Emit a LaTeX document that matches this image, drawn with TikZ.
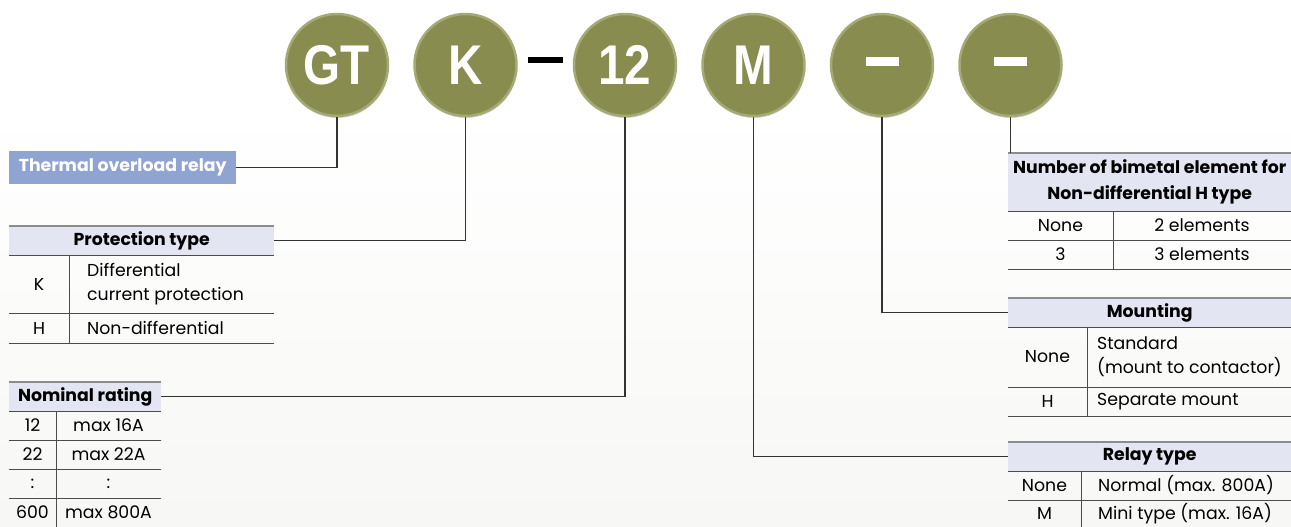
\documentclass[tikz,border=0pt]{standalone}
\usepackage{fontspec}
\setmainfont{Poppins}
\newfontfamily\badgefont{Liberation Sans}[FakeStretch=0.85]
\usetikzlibrary{arrows,positioning,shadows}
\definecolor{badgegreen}{HTML}{888D4F}
\definecolor{badgerim}{HTML}{A5AA75}
\definecolor{headfill}{HTML}{E3E5F3}
\definecolor{labelfill}{HTML}{8FA4D1}
\definecolor{paper}{HTML}{F7F8F5}
\tikzset{
    %Define style for the code circles
    badge/.style={
           circle,
           fill=badgegreen,
           draw=badgerim, line width=2.5pt,
           minimum size=102pt,
           inner sep=0pt,
           text=white,
           font=\badgefont\bfseries\fontsize{56}{56}\selectfont,
           drop shadow={opacity=0.3, shadow xshift=0.5pt, shadow yshift=-2pt}},
    %Define style for table heads
    headcell/.style={
           rectangle,
           fill=headfill,
           inner sep=0pt,
           anchor=north west,
           align=center,
           font=\bfseries\fontsize{17.3}{26}\selectfont},
    %Define style for table cells
    cell/.style={
           inner sep=0pt,
           font=\fontsize{17.3}{24}\selectfont},
    celltext/.style={
           cell,
           anchor=west,
           align=left},
    %Define style for lines
    toprule/.style={draw=black!45, line width=1.6pt},
    rowrule/.style={draw=black!70, line width=0.8pt},
    link/.style={draw=black!80, line width=1.2pt}
}
\begin{document}
\begin{tikzpicture}[x=1pt,y=-1pt,node distance=24pt]
\useasboundingbox (0,0) rectangle (1291,527);
\fill[white] (0,0) rectangle (1291,100);
\shade[top color=white, bottom color=paper] (0,100) rectangle (1291,527);

 %code circles
\node[badge] (gt) at (337,65) {GT};
\node[badge, right=of gt] (k) {K};
\node[badge, right=55pt of k] (n12) {12};
\node[badge, right=of n12] (m) {M};
\node[badge, right=of m] (mount) {\raisebox{7pt}{\rule{33pt}{9pt}}};
\node[badge, right=of mount] (elem) {\raisebox{7pt}{\rule{33pt}{9pt}}};
\path (k.east) -- (n12.west) node[midway, yshift=5pt, fill=black, inner sep=0pt,
    minimum width=35pt, minimum height=6pt] (hyphen) {};

 %thermal overload relay
\node[rectangle, fill=labelfill, text=white, inner sep=0pt, anchor=north west,
    minimum width=227pt, minimum height=33pt, font=\bfseries\fontsize{17.3}{20}\selectfont]
    (thermal) at (9,151) {Thermal overload relay};

 %protection type
\node[headcell, minimum width=265pt, minimum height=29pt] (prothead) at (9,226) {Protection type};
\node[cell] (protk) at (39,284) {K};
\node[celltext] (protkt) at (87,284) {Differential\\current protection};
\node[cell] (proth) at (39,328) {H};
\node[celltext] (protht) at (87,328) {Non-differential};
\draw[toprule] (prothead.north west) -- (prothead.north east);
\draw[rowrule] (prothead.south west) -- (prothead.south east)
    (9,313) -- (274,313) (9,343) -- (274,343) (69,255) -- (69,343);

 %nominal rating
\node[headcell, minimum width=152pt, minimum height=29pt] (nomhead) at (9,382) {Nominal rating};
\node[cell] (nom1) at (32.5,425.5) {12};
\node[cell] (nom1t) at (108.5,425.5) {max 16A};
\node[cell] (nom2) at (32.5,454.5) {22};
\node[cell] (nom2t) at (108.5,454.5) {max 22A};
\node[cell] (nom3) at (32.5,483.5) {:};
\node[cell] (nom3t) at (108.5,483.5) {:};
\node[cell] (nom4) at (32.5,512.5) {600};
\node[cell] (nom4t) at (108.5,512.5) {max 800A};
\draw[toprule] (nomhead.north west) -- (nomhead.north east);
\draw[rowrule] (nomhead.south west) -- (nomhead.south east)
    (9,440) -- (161,440) (9,469) -- (161,469) (9,498) -- (161,498) (56,411) -- (56,527);

 %number of bimetal elements
\node[headcell, minimum width=283pt, minimum height=58pt] (numhead) at (1008,153)
    {Number of bimetal element for\\Non-differential H type};
\node[cell] (num1) at (1060.5,225.5) {None};
\node[cell] (num1t) at (1202,225.5) {2 elements};
\node[cell] (num2) at (1060.5,254.5) {3};
\node[cell] (num2t) at (1202,254.5) {3 elements};
\draw[toprule] (numhead.north west) -- (numhead.north east);
\draw[rowrule] (numhead.south west) -- (numhead.south east)
    (1008,240) -- (1291,240) (1008,269) -- (1291,269) (1113,211) -- (1113,269);

 %mounting
\node[headcell, minimum width=283pt, minimum height=29pt] (mounthead) at (1008,298) {Mounting};
\node[cell] (mnt1) at (1047.5,357) {None};
\node[celltext] (mnt1t) at (1097,357) {Standard\\(mount to contactor)};
\node[cell] (mnt2) at (1047.5,401.5) {H};
\node[celltext] (mnt2t) at (1097,401.5) {Separate mount};
\draw[toprule] (mounthead.north west) -- (mounthead.north east);
\draw[rowrule] (mounthead.south west) -- (mounthead.south east)
    (1008,387) -- (1291,387) (1008,416) -- (1291,416) (1087,327) -- (1087,416);

 %relay type
\node[headcell, minimum width=283pt, minimum height=29pt] (relayhead) at (1008,442) {Relay type};
\node[cell] (rly1) at (1044.5,485.5) {None};
\node[celltext] (rly1t) at (1098,485.5) {Normal (max. 800A)};
\node[cell] (rly2) at (1044.5,513.5) {M};
\node[celltext] (rly2t) at (1098,513.5) {Mini type (max. 16A)};
\draw[toprule] (relayhead.north west) -- (relayhead.north east);
\draw[rowrule] (relayhead.south west) -- (relayhead.south east)
    (1008,500) -- (1291,500) (1081,471) -- (1081,527);

 %links
\draw[link] (gt.south) |- (thermal.east);
\draw[link] (k.south) |- (prothead.east);
\draw[link] (n12.south) |- (nomhead.east);
\draw[link] (m.south) |- (relayhead.west);
\draw[link] (mount.south) |- (mounthead.west);
\draw[link] (elem.south) -- (elem.south |- numhead.north);
\end{tikzpicture}
\end{document}
